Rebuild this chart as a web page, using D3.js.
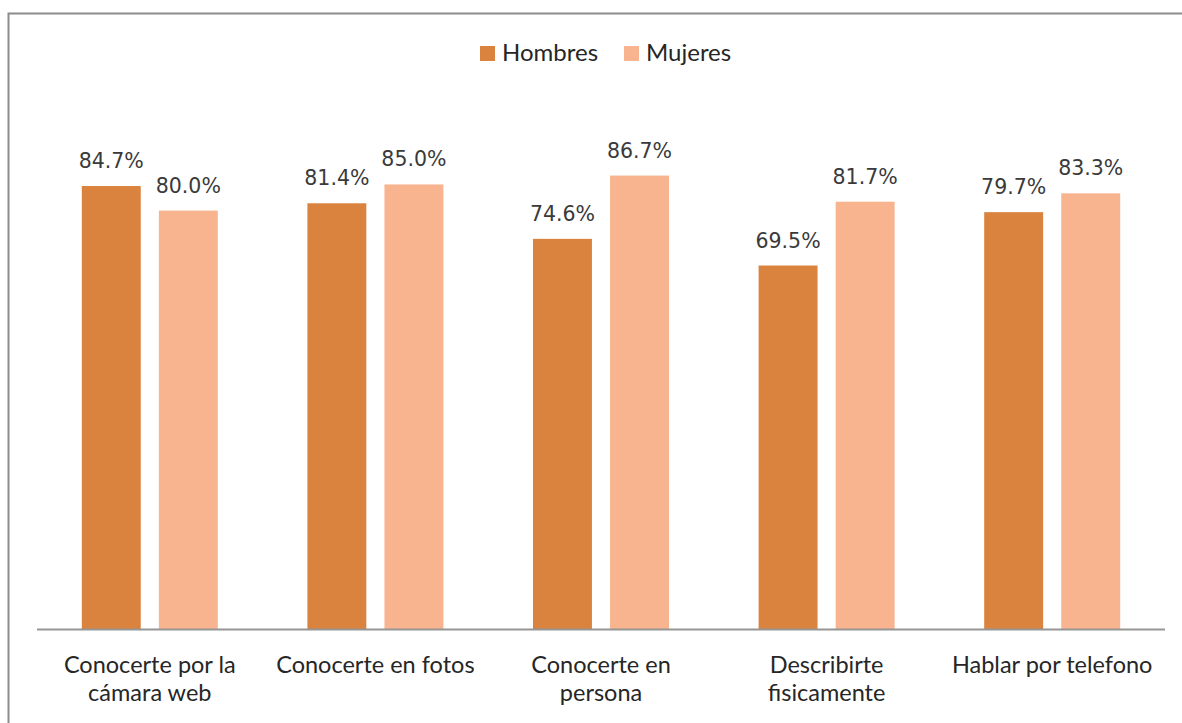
<!DOCTYPE html>
<html>
<head>
<meta charset="utf-8">
<script src="https://cdn.jsdelivr.net/npm/d3@7"></script>
<style>
  body { margin: 0; background: #fff; }
</style>
</head>
<body>
<div id="chart"></div>
<script>
const categories = [
  ['Conocerte por la', 'cámara web'],
  ['Conocerte en fotos'],
  ['Conocerte en', 'persona'],
  ['Describirte', 'fisicamente'],
  ['Hablar por telefono'],
];
const seriesNames = ['Hombres', 'Mujeres'];
const hombres = [84.7, 81.4, 74.6, 69.5, 79.7];
const mujeres = [80.0, 85.0, 86.7, 81.7, 83.3];
const colors = ['#D9833F', '#F8B48E'];

const width = 1182;
const height = 723;
const margin = { top: 106, right: 17, bottom: 94, left: 37 };
const innerW = width - margin.left - margin.right;
const innerH = height - margin.top - margin.bottom;

const svg = d3.select('#chart').append('svg')
  .attr('width', width)
  .attr('height', height);

// outer frame
svg.append('path')
  .attr('d', `M8.5,${height} V13.5 H${width}`)
  .attr('fill', 'none')
  .attr('stroke', '#8c8c8c')
  .attr('stroke-width', 2);

const g = svg.append('g')
  .attr('transform', `translate(${margin.left},${margin.top})`);

const x0 = d3.scaleBand()
  .domain(d3.range(categories.length))
  .range([0, innerW]);

const x1 = d3.scaleBand()
  .domain(seriesNames)
  .range([x0.bandwidth() / 2 - 68, x0.bandwidth() / 2 + 68])
  .paddingInner(16 / 136 * 2);

const y = d3.scaleLinear()
  .domain([0, 100])
  .range([innerH, 0]);

const rows = categories.map((c, i) => ({
  i,
  values: [
    { key: 'Hombres', value: hombres[i] },
    { key: 'Mujeres', value: mujeres[i] },
  ],
}));

const groups = g.selectAll('.group')
  .data(rows)
  .enter()
  .append('g')
  .attr('transform', d => `translate(${x0(d.i)},0)`);

groups.selectAll('rect')
  .data(d => d.values)
  .enter()
  .append('rect')
  .attr('x', d => x1(d.key))
  .attr('width', x1.bandwidth())
  .attr('y', d => y(d.value))
  .attr('height', d => innerH - y(d.value))
  .attr('fill', (d, j) => colors[j]);

groups.selectAll('.val')
  .data(d => d.values)
  .enter()
  .append('text')
  .attr('class', 'val')
  .attr('x', d => x1(d.key) + x1.bandwidth() / 2)
  .attr('y', d => y(d.value) - 18)
  .attr('text-anchor', 'middle')
  .style('font-family', 'DejaVu Sans, Verdana, sans-serif')
  .style('font-size', '20.5px')
  .style('fill', '#3a3a3a')
  .text(d => d.value.toFixed(1) + '%');

// baseline
g.append('line')
  .attr('x1', 0)
  .attr('x2', innerW)
  .attr('y1', innerH + 0.5)
  .attr('y2', innerH + 0.5)
  .attr('stroke', '#969696')
  .attr('stroke-width', 2);

// category labels, one text per line
const catLines = [];
categories.forEach((lines, i) => {
  lines.forEach((t, j) => catLines.push({ i, j, t }));
});

g.selectAll('.cat')
  .data(catLines)
  .enter()
  .append('text')
  .attr('class', 'cat')
  .attr('x', d => x0(d.i) + x0.bandwidth() / 2)
  .attr('y', d => innerH + 44 + d.j * 28)
  .attr('text-anchor', 'middle')
  .style('font-family', 'Lato, sans-serif')
  .style('font-size', '23.5px')
  .style('fill', '#262626')
  .text(d => d.t);

// legend
const legend = svg.append('g')
  .attr('transform', 'translate(480,46)');

const legendItems = legend.selectAll('g')
  .data(seriesNames)
  .enter()
  .append('g')
  .attr('transform', (d, i) => `translate(${i * 144},0)`);

legendItems.append('rect')
  .attr('width', 15)
  .attr('height', 15)
  .attr('fill', (d, i) => colors[i]);

legendItems.append('text')
  .attr('x', 22)
  .attr('y', 15)
  .style('font-family', 'Lato, sans-serif')
  .style('font-size', '24px')
  .style('fill', '#262626')
  .text(d => d);
</script>
</body>
</html>
